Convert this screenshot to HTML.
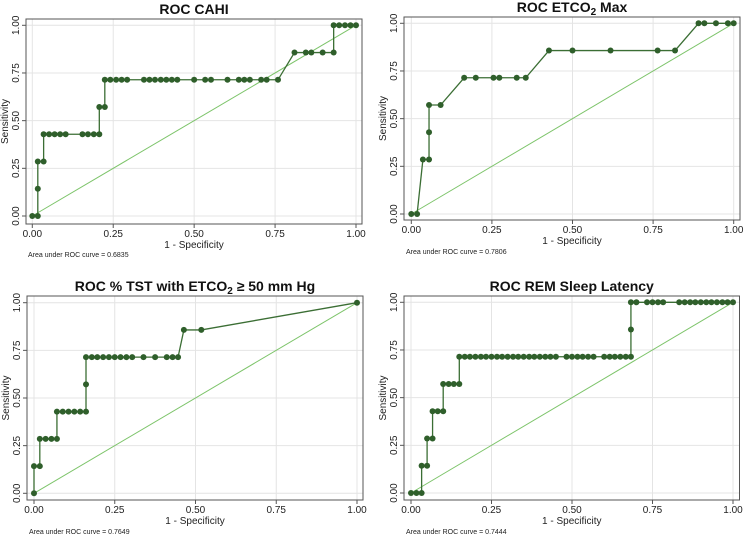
<!DOCTYPE html>
<html><head><meta charset="utf-8"><style>
html,body{margin:0;padding:0;background:#fff;}
svg{display:block;font-family:"Liberation Sans",sans-serif;}
</style></head><body>
<svg id="chart" width="744" height="537" viewBox="0 0 744 537"></svg>
<script>
const L=1/7;
const cahiX=[0,0.017,0.017,0.017,0.035,0.035,0.052,0.069,0.086,0.103,0.155,0.172,0.19,0.207,0.207,0.224,0.224,0.241,0.259,0.276,0.293,0.345,0.362,0.379,0.397,0.414,0.431,0.448,0.5,0.534,0.552,0.603,0.638,0.655,0.672,0.707,0.724,0.759,0.81,0.845,0.862,0.897,0.931,0.931,0.948,0.966,0.983,1];
const cahiY=[0,0,1,2,2,3,3,3,3,3,3,3,3,3,4,4,5,5,5,5,5,5,5,5,5,5,5,5,5,5,5,5,5,5,5,5,5,5,6,6,6,6,6,7,7,7,7,7];
const etcoX=[0,0.018,0.036,0.055,0.055,0.055,0.091,0.164,0.2,0.255,0.273,0.327,0.355,0.427,0.5,0.618,0.764,0.818,0.891,0.909,0.945,0.982,1];
const etcoY=[0,0,2,2,3,4,4,5,5,5,5,5,5,6,6,6,6,6,7,7,7,7,7];
const tstX=[0,0,0.018,0.018,0.036,0.054,0.071,0.071,0.089,0.107,0.125,0.143,0.161,0.161,0.161,0.179,0.196,0.214,0.232,0.25,0.268,0.286,0.304,0.339,0.375,0.411,0.429,0.446,0.464,0.518,1];
const tstY=[0,1,1,2,2,2,2,3,3,3,3,3,3,4,5,5,5,5,5,5,5,5,5,5,5,5,5,5,6,6,7];
const remX=[0,0.017,0.033,0.033,0.05,0.05,0.067,0.067,0.083,0.1,0.1,0.117,0.133,0.15,0.15,0.167,0.183,0.2,0.217,0.233,0.25,0.267,0.283,0.3,0.317,0.333,0.35,0.367,0.383,0.4,0.417,0.433,0.45,0.483,0.5,0.517,0.533,0.55,0.567,0.6,0.617,0.633,0.65,0.667,0.683,0.683,0.683,0.7,0.733,0.75,0.767,0.783,0.833,0.85,0.867,0.883,0.9,0.917,0.933,0.95,0.967,0.983,1];
const remY=[0,0,0,1,1,2,2,3,3,3,4,4,4,4,5,5,5,5,5,5,5,5,5,5,5,5,5,5,5,5,5,5,5,5,5,5,5,5,5,5,5,5,5,5,5,6,7,7,7,7,7,7,7,7,7,7,7,7,7,7,7,7,7];
const ticks=[0,0.25,0.5,0.75,1];
const tickLabels=["0.00","0.25","0.50","0.75","1.00"];
const panels=[
 {id:"cahi",title:"ROC CAHI",auc:"Area under ROC curve = 0.6835",xs:cahiX,ys:cahiY,x0:32.3,x1:356,y0:216,y1:25.3,bl:26,br:362,bt:19,bb:224,tY:14,aucY:257},
 {id:"etco2-max",title:"ROC ETCO<tspan font-size='10' dy='3'>2</tspan><tspan dy='-3'> Max</tspan>",auc:"Area under ROC curve = 0.7806",xs:etcoX,ys:etcoY,x0:411.3,x1:733.7,y0:214,y1:23.3,bl:404,br:740,bt:17,bb:220,tY:12,aucY:254},
 {id:"tst-etco2",title:"ROC % TST with ETCO<tspan font-size='10' dy='3'>2</tspan><tspan dy='-3'> ≥ 50 mm Hg</tspan>",auc:"Area under ROC curve = 0.7649",xs:tstX,ys:tstY,x0:34,x1:357,y0:493.3,y1:302.7,bl:27,br:363,bt:296,bb:500,tY:291,aucY:534},
 {id:"rem-latency",title:"ROC REM Sleep Latency",auc:"Area under ROC curve = 0.7444",xs:remX,ys:remY,x0:411,x1:733,y0:493,y1:302.3,bl:404,br:739.5,bt:296,bb:500,tY:291,aucY:534}
];
const svg=document.getElementById('chart');
const NS="http://www.w3.org/2000/svg";
function mk(tag,at,parent){const e=document.createElementNS(NS,tag);for(const k in at)e.setAttribute(k,at[k]);(parent||svg).appendChild(e);return e;}
panels.forEach(p=>{
 const g=mk('g',{});
 
 
 const sx=v=>p.x0+v*(p.x1-p.x0), sy=v=>p.y0+v*(p.y1-p.y0);
 ticks.forEach((t,i)=>{
  const gx=mk('line',{x1:sx(t),x2:sx(t),y1:p.bt,y2:p.bb,stroke:'#e4e4e4','stroke-width':1},g);
  
  
  const gy=mk('line',{x1:p.bl,x2:p.br,y1:sy(t),y2:sy(t),stroke:'#e4e4e4','stroke-width':1},g);
  
  
  mk('line',{x1:sx(t),x2:sx(t),y1:p.bb,y2:p.bb+4,stroke:'#555'},g);
  mk('line',{x1:p.bl-4,x2:p.bl,y1:sy(t),y2:sy(t),stroke:'#555'},g);
  const xl=mk('text',{x:sx(t),y:p.bb+13,'font-size':10,'text-anchor':'middle',fill:'#222'},g);
  xl.textContent=tickLabels[i];
  
  
  const yl=mk('text',{x:0,y:0,'font-size':10,'text-anchor':'middle',fill:'#222',transform:`translate(${p.bl-7},${sy(t)}) rotate(-90)`},g);
  yl.textContent=tickLabels[i];
  
  
 });
 const fr=mk('rect',{x:p.bl,y:p.bt,width:p.br-p.bl,height:p.bb-p.bt,fill:'none',stroke:'#555','stroke-width':1},g);
 
 
 const ref=mk('line',{x1:sx(0),y1:sy(0),x2:sx(1),y2:sy(1),stroke:'#7dc46a','stroke-width':1},g);
 
 
 const pts=p.xs.map((x,i)=>sx(x)+','+sy(p.ys[i]*L)).join(' ');
 const pl=mk('polyline',{points:pts,fill:'none',stroke:'#3b6e34','stroke-width':1.3},g);
 
 
 p.xs.forEach((x,i)=>{
  const c=mk('circle',{cx:sx(x),cy:sy(p.ys[i]*L),r:3,fill:'#2f5f2b'},g);
  
  
 });
 const cx=(p.bl+p.br)/2;
 const tt=mk('text',{x:cx,y:p.tY,'font-size':14,'font-weight':'bold','text-anchor':'middle',fill:'#111'},g);
 tt.innerHTML=p.title;
 
 
 const xt=mk('text',{x:cx,y:p.bb+24,'font-size':10,'text-anchor':'middle',fill:'#222'},g);
 xt.textContent='1 - Specificity';
 
 
 const yt=mk('text',{x:0,y:0,'font-size':10,'text-anchor':'middle',fill:'#222',transform:`translate(${p.bl-18},${(p.bt+p.bb)/2}) rotate(-90)`},g);
 yt.textContent='Sensitivity';
 
 
 const at=mk('text',{x:p.bl+2,y:p.aucY,'font-size':7,fill:'#222'},g);
 at.textContent=p.auc;
 
 
});
</script>
</body></html>
